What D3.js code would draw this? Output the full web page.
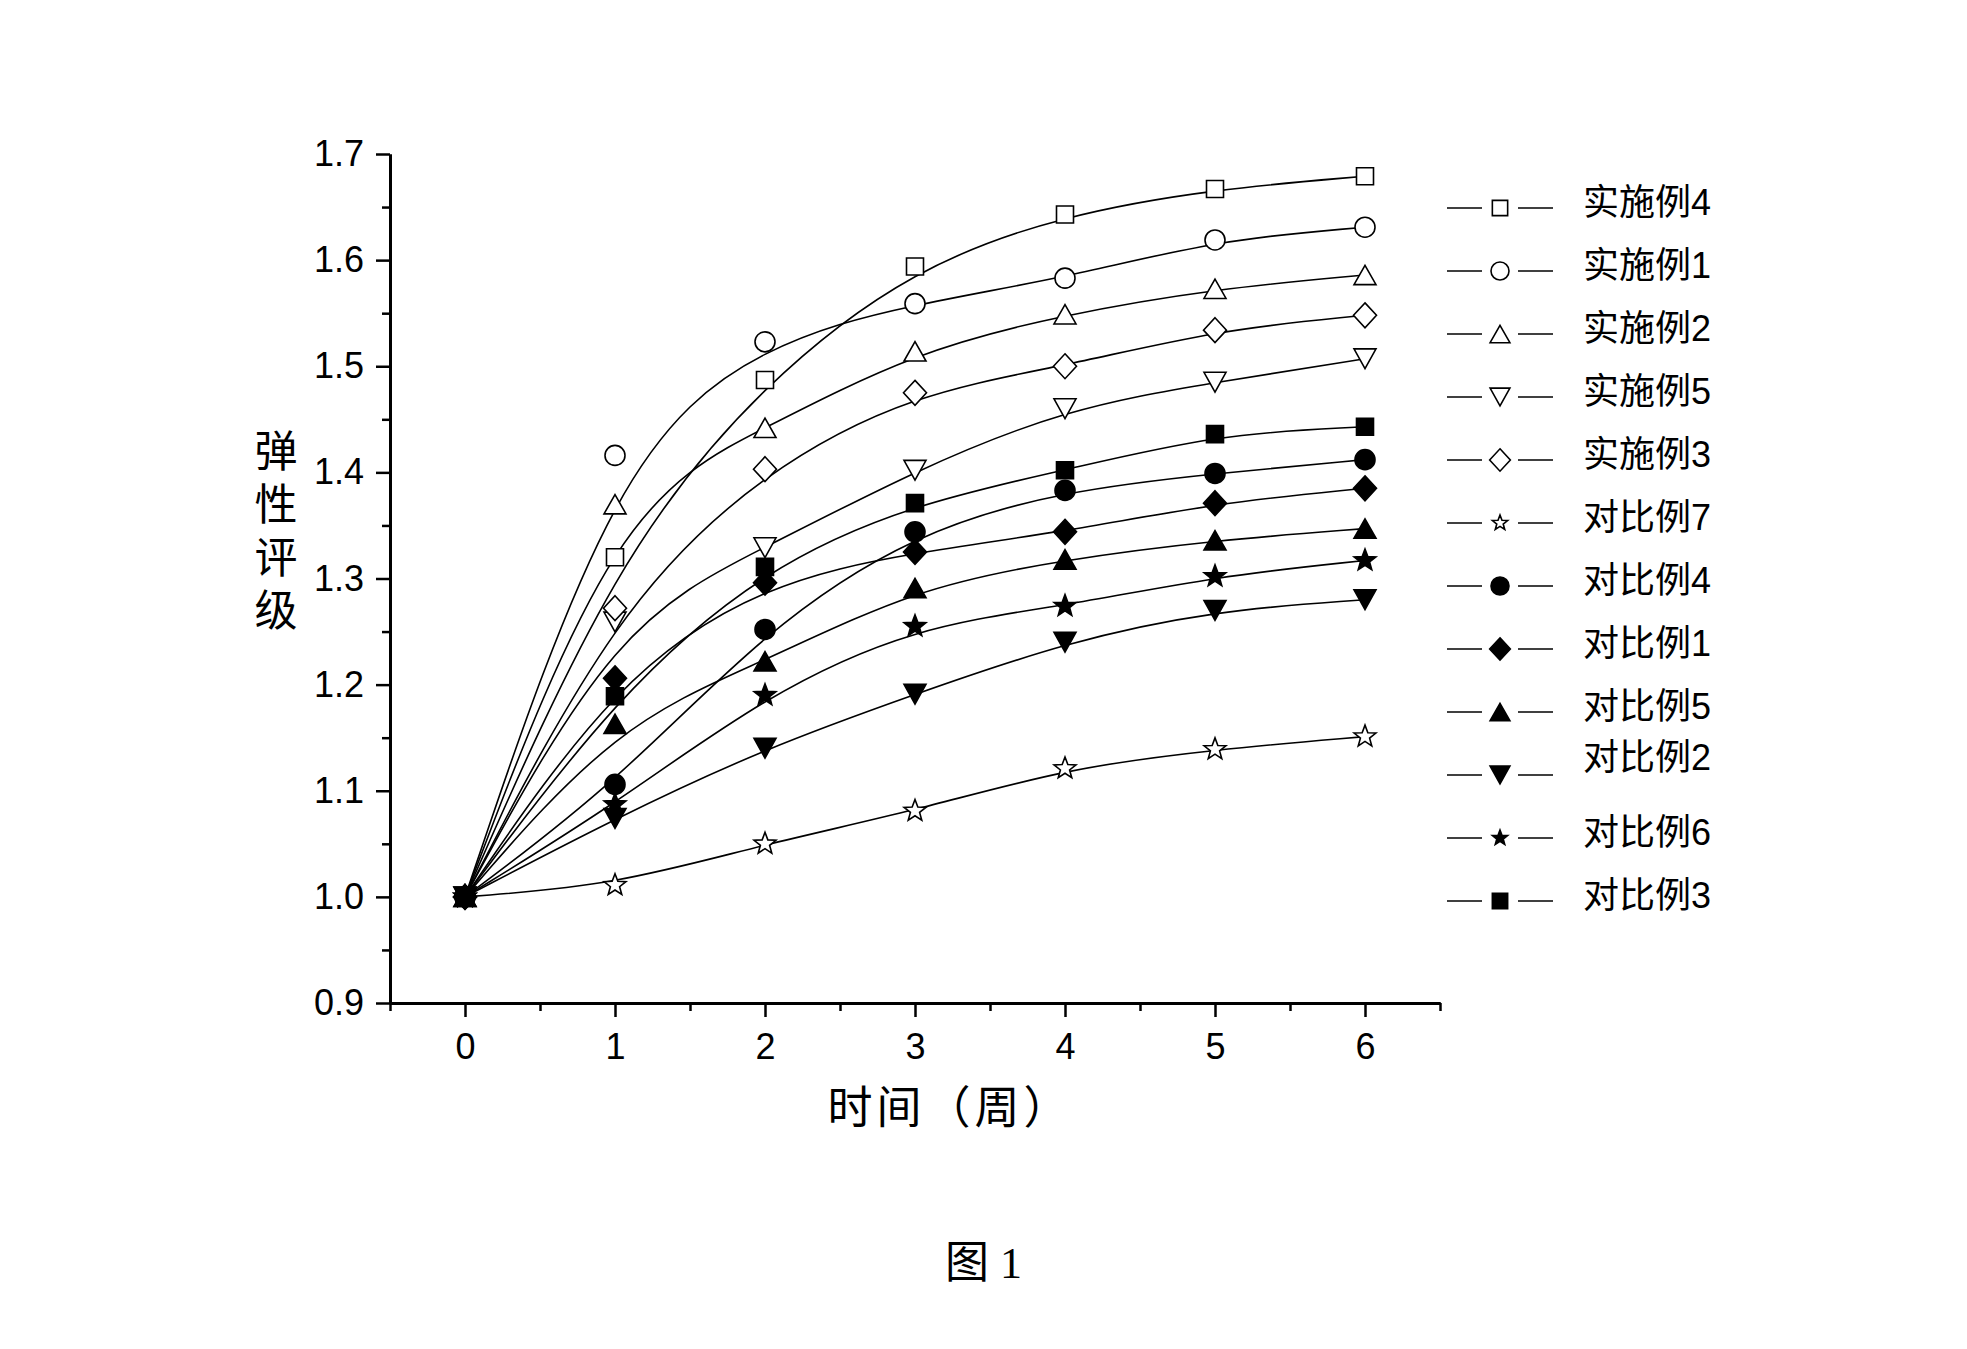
<!DOCTYPE html>
<html>
<head>
<meta charset="utf-8">
<script src="https://cdn.jsdelivr.net/npm/d3@7"></script>
<style>
  body { margin: 0; background: #fff; }
  text { fill: #000; }
</style>
</head>
<body>
<div id="chart"></div>
<script>
// weeks on the x axis
var weeks = [0, 1, 2, 3, 4, 5, 6];

// series values (elasticity rating)
var ex4  = [1.000, 1.320, 1.487, 1.594, 1.643, 1.667, 1.679];
var ex1  = [1.000, 1.416, 1.523, 1.559, 1.583, 1.619, 1.631];
var ex2  = [1.000, 1.370, 1.442, 1.514, 1.549, 1.573, 1.586];
var ex5  = [1.000, 1.259, 1.329, 1.402, 1.460, 1.485, 1.507];
var ex3  = [1.000, 1.272, 1.403, 1.475, 1.500, 1.534, 1.548];
var cmp7 = [1.000, 1.011, 1.050, 1.081, 1.121, 1.139, 1.151];
var cmp4 = [1.000, 1.106, 1.252, 1.344, 1.383, 1.399, 1.412];
var cmp1 = [1.000, 1.206, 1.296, 1.325, 1.344, 1.371, 1.385];
var cmp5 = [1.000, 1.163, 1.222, 1.291, 1.318, 1.336, 1.347];
var cmp2 = [1.000, 1.074, 1.140, 1.191, 1.240, 1.270, 1.280];
var cmp6 = [1.000, 1.087, 1.190, 1.255, 1.274, 1.302, 1.317];
var cmp3 = [1.000, 1.189, 1.311, 1.371, 1.402, 1.436, 1.443];

// legend order
var names  = ["实施例4", "实施例1", "实施例2", "实施例5", "实施例3", "对比例7",
              "对比例4", "对比例1", "对比例5", "对比例2", "对比例6", "对比例3"];
var values = [ex4, ex1, ex2, ex5, ex3, cmp7, cmp4, cmp1, cmp5, cmp2, cmp6, cmp3];
var shapes = ["square", "circle", "triangle", "triangleDown", "diamond", "star",
              "circle", "diamond", "triangle", "triangleDown", "star", "square"];
var filled = [false, false, false, false, false, false, true, true, true, true, true, true];

var yTicks = [0.9, 1.0, 1.1, 1.2, 1.3, 1.4, 1.5, 1.6, 1.7];

var W = 1967, H = 1349;
var margin = {left: 390, right: 527, top: 154, bottom: 346};

var svg = d3.select("#chart").append("svg")
    .attr("width", W)
    .attr("height", H)
    .style("background", "#fff");

var x = d3.scaleLinear().domain([-0.5, 6.5]).range([margin.left, W - margin.right]);
var y = d3.scaleLinear().domain([0.9, 1.7]).range([H - margin.bottom, margin.top]);

var tickFont = "'Liberation Sans', Arial, 'Noto Sans CJK SC', sans-serif";
var cjkFont = "'Liberation Sans', 'Noto Sans CJK SC', sans-serif";

// custom marker shapes, size = full width in px
var symbols = {
  square: { draw: function(c, s) { var h = s / 2; c.rect(-h, -h, s, s); } },
  circle: { draw: function(c, s) { var r = s / 2; c.moveTo(r, 0); c.arc(0, 0, r, 0, 2 * Math.PI); } },
  triangle: { draw: function(c, s) {
    var w = s / 2, h = s * 0.44;
    c.moveTo(0, -h); c.lineTo(w, h); c.lineTo(-w, h); c.closePath(); } },
  triangleDown: { draw: function(c, s) {
    var w = s / 2, h = s * 0.45;
    c.moveTo(0, h); c.lineTo(w, -h); c.lineTo(-w, -h); c.closePath(); } },
  diamond: { draw: function(c, s) {
    var w = s / 2, h = s * 0.54;
    c.moveTo(0, -h); c.lineTo(w, 0); c.lineTo(0, h); c.lineTo(-w, 0); c.closePath(); } },
  star: { draw: function(c, s) {
    var R = s / 2, r = R * 0.42;
    for (var i = 0; i < 10; i++) {
      var a = -Math.PI / 2 + i * Math.PI / 5, rr = i % 2 ? r : R;
      if (i === 0) c.moveTo(rr * Math.cos(a), rr * Math.sin(a));
      else c.lineTo(rr * Math.cos(a), rr * Math.sin(a));
    }
    c.closePath(); } }
};
var markerSize = {square: 17, circle: 20, triangle: 22, triangleDown: 22, diamond: 23, star: 23};

function marker(shape, scale) {
  return d3.symbol().type(symbols[shape]).size(markerSize[shape] * (scale || 1))();
}

// axes
var yAxis = d3.axisLeft(y).tickValues(yTicks).tickFormat(d3.format(".1f"))
    .tickSizeInner(14).tickSizeOuter(0).tickPadding(12);
var yMinor = d3.axisLeft(y).tickValues(d3.range(0.95, 1.7, 0.1)).tickFormat("")
    .tickSizeInner(8).tickSizeOuter(0);
var xAxis = d3.axisBottom(x).tickValues(weeks).tickFormat(d3.format("d"))
    .tickSizeInner(14).tickSizeOuter(0).tickPadding(16);
var xMinor = d3.axisBottom(x).tickValues(d3.range(-0.5, 7, 1)).tickFormat("")
    .tickSizeInner(8).tickSizeOuter(0);

function styleAxis(g) {
  g.select(".domain").attr("stroke", "#000").attr("stroke-width", 3);
  g.selectAll(".tick line").attr("stroke", "#000").attr("stroke-width", 2.5);
  g.selectAll(".tick text").attr("font-family", tickFont).attr("font-size", 36).attr("fill", "#000");
}

svg.append("g").attr("transform", "translate(" + margin.left + ",0)").call(yMinor).call(styleAxis);
svg.append("g").attr("transform", "translate(" + margin.left + ",0)").call(yAxis).call(styleAxis);
svg.append("g").attr("transform", "translate(0," + (H - margin.bottom) + ")").call(xMinor).call(styleAxis);
svg.append("g").attr("transform", "translate(0," + (H - margin.bottom) + ")").call(xAxis).call(styleAxis);

// smoothed curves (B-spline through the points)
var line = d3.line()
    .x(function(d, i) { return x(weeks[i]); })
    .y(function(d) { return y(d); })
    .curve(d3.curveBasis);

svg.append("g").selectAll("path")
    .data(values)
  .enter().append("path")
    .attr("d", line)
    .attr("fill", "none")
    .attr("stroke", "#000")
    .attr("stroke-width", 1.6);

// markers
values.forEach(function(vals, k) {
  svg.append("g").selectAll("path")
      .data(vals)
    .enter().append("path")
      .attr("transform", function(d, i) { return "translate(" + x(weeks[i]) + "," + y(d) + ")"; })
      .attr("d", marker(shapes[k]))
      .attr("fill", filled[k] ? "#000" : "#fff")
      .attr("stroke", "#000")
      .attr("stroke-width", 1.6);
});

// legend
var legend = svg.append("g").attr("class", "legend");
names.forEach(function(name, k) {
  var ly = 208 + k * 63;
  var g = legend.append("g").attr("transform", "translate(0," + ly + ")");
  g.append("line").attr("x1", 1447).attr("x2", 1482).attr("stroke", "#000").attr("stroke-width", 1.6);
  g.append("line").attr("x1", 1518).attr("x2", 1553).attr("stroke", "#000").attr("stroke-width", 1.6);
  g.append("path")
      .attr("transform", "translate(1500,0)")
      .attr("d", marker(shapes[k], shapes[k] === "star" ? 0.7 : 0.9))
      .attr("fill", filled[k] ? "#000" : "#fff")
      .attr("stroke", "#000")
      .attr("stroke-width", 1.6);
  g.append("text")
      .attr("x", 1583)
      .attr("y", name === "对比例2" ? -18 : -6)
      .attr("dominant-baseline", "central")
      .attr("font-family", cjkFont)
      .attr("font-size", 36)
      .text(name);
});

// axis titles
svg.append("text")
    .attr("x", 950)
    .attr("y", 1108)
    .attr("text-anchor", "middle")
    .attr("dominant-baseline", "central")
    .attr("font-family", cjkFont)
    .attr("font-size", 45)
    .attr("letter-spacing", 4)
    .text("时间（周）");

var yTitle = svg.append("text")
    .attr("font-family", cjkFont)
    .attr("font-size", 43)
    .attr("text-anchor", "middle");
["弹", "性", "评", "级"].forEach(function(ch, i) {
  yTitle.append("tspan")
      .attr("x", 276)
      .attr("y", 467 + i * 53)
      .text(ch);
});

// figure caption
svg.append("text")
    .attr("x", 945)
    .attr("y", 1278)
    .attr("font-family", "'Liberation Serif', 'Noto Sans CJK SC', serif")
    .attr("font-size", 44)
    .text("图 1");
</script>
</body>
</html>
